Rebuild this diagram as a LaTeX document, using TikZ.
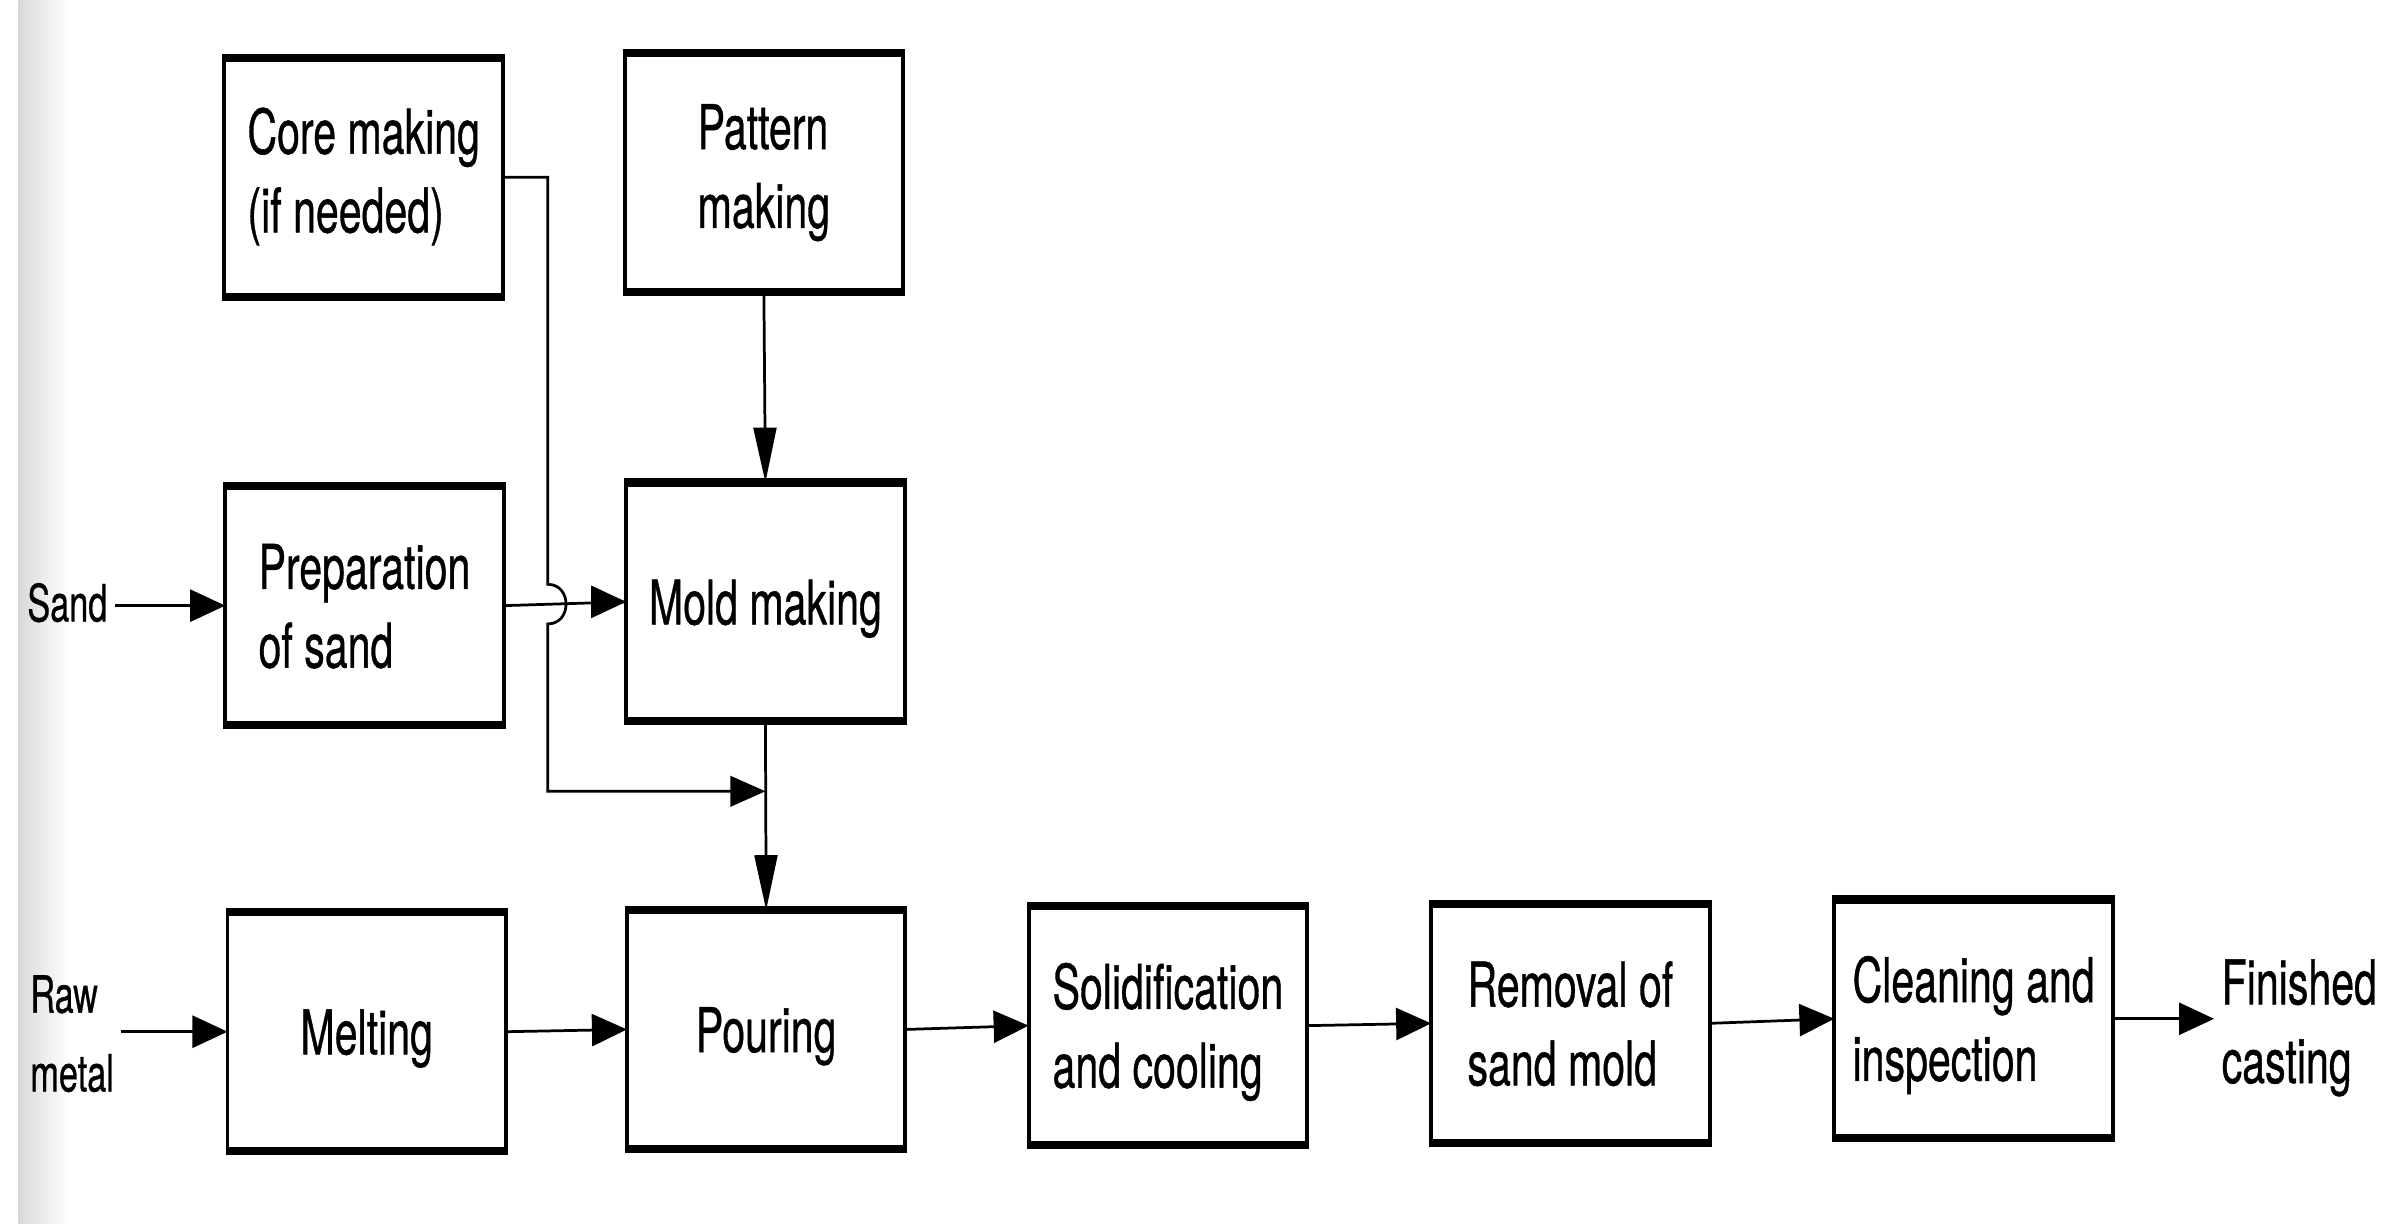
\documentclass[tikz,border=0pt]{standalone}
\usepackage{fontspec}
\setmainfont{TeX Gyre Heros}[FakeBold=0.8]
\usetikzlibrary{arrows.meta,calc}
\newcommand{\stretched}[1]{\scalebox{1}[1.5]{\begin{tabular}{@{}l@{}}#1\end{tabular}}}
\newcommand{\lowered}[1]{\raisebox{-4.5pt}[\height][\depth]{\stretched{#1}}}
\begin{document}
\begin{tikzpicture}[x=1pt,y=-1pt,
  proc/.style={draw, line width=2.6pt, outer sep=0pt, minimum width=183pt, minimum height=157pt, inner sep=0pt, font=\fontsize{27}{34.5}\selectfont},
  biglbl/.style={inner sep=5pt, outer sep=0pt, font=\fontsize{27}{34.5}\selectfont},
  smalllbl/.style={inner sep=5pt, outer sep=0pt, font=\fontsize{22.5}{34.5}\selectfont},
  conn/.style={line width=1.8pt},
  harr/.style={conn, -{Triangle[length=23pt,width=21pt]}},
  varr/.style={conn, -{Triangle[length=36pt,width=15pt]}},
  edge/.style={line width=5.5pt}
]
\useasboundingbox (0,0) rectangle (1568,804);
\fill[white] (0,0) rectangle (1568,804);
\shade[left color=gray!30, right color=white] (12,0) rectangle (45,804);

% boxes
\node[proc] (core)    at (239,116.5)  {\stretched{Core making\\(if needed)}};
\node[proc] (pattern) at (502,113.5)  {\stretched{Pattern\\making}};
\node[proc] (prep)    at (239.5,398)  {\lowered{Preparation\\of sand}};
\node[proc] (mold)    at (503,395.5)  {\lowered{Mold making}};
\node[proc] (melt)    at (241,678)    {\lowered{Melting}};
\node[proc] (pour)    at (503.5,676.5){\lowered{Pouring}};
\node[proc] (solid)   at (767.5,674)  {\lowered{Solidification\\and cooling}};
\node[proc] (removal) at (1032,672.5) {\lowered{Removal of\\sand mold}};
\node[proc] (clean)   at (1297,669.5) {\lowered{Cleaning and\\inspection}};

\foreach \n in {core,pattern,prep,mold,melt,pour,solid,removal,clean}{
  \draw[edge] ([xshift=-1.3pt]\n.north west) -- ([xshift=1.3pt]\n.north east);
  \draw[edge] ([xshift=-1.3pt]\n.south west) -- ([xshift=1.3pt]\n.south east);
}

% labels
\node[smalllbl, anchor=west] (sand) at (13,398) {\stretched{Sand}};
\node[smalllbl, anchor=west] (raw)  at (15,681) {\stretched{Raw\\metal}};
\node[biglbl, anchor=west]   (fin)  at (1455,671) {\lowered{Finished\\casting}};

% connectors
\draw[harr] (sand.east |- prep.west) -- (prep.west);
\draw[conn] (prep.east) -- (mold.west);
\draw[harr] ([xshift=-10pt]mold.west) -- (mold.west);
\draw[varr] (pattern.south) -- (mold.north);
\draw[varr] (mold.south) -- (pour.north);
\draw[harr] (raw.east |- melt.west) -- (melt.west);
\draw[harr] (melt.east) -- (pour.west);
\draw[harr] (pour.east) -- (solid.west);
\draw[harr] (solid.east) -- (removal.west);
\draw[harr] (removal.east) -- (clean.west);
\draw[harr] (clean.east) -- (fin.west |- clean.east);

\coordinate (j) at (mold.south |- 0,520);
\draw[conn, -{Triangle[length=23pt,width=20pt]}]
  (core.east) -- (360,116.5) -- (360,384)
  .. controls (376,384) and (376,410) .. (360,410)
  -- (360,520) -- (j);
\end{tikzpicture}
\end{document}
